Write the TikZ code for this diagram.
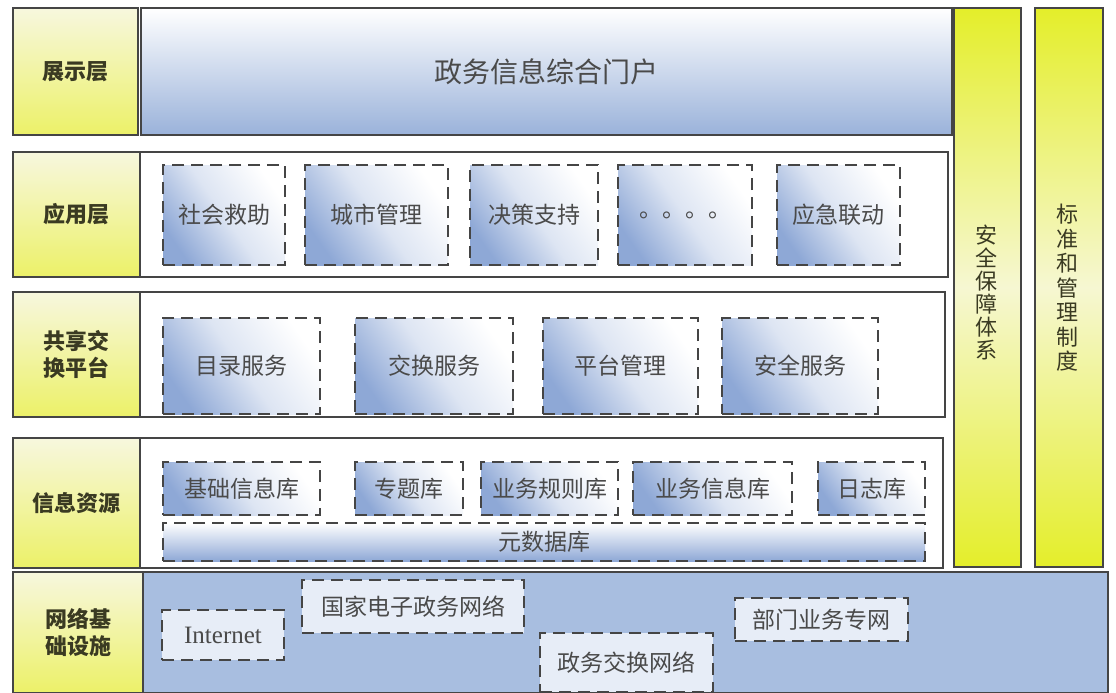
\documentclass[tikz,border=0pt]{standalone}
\usepackage{fontspec}
\setmainfont{Noto Sans CJK SC}
\newfontfamily\latinserif{Liberation Serif}
\begin{document}
\definecolor{bordc}{HTML}{454545}
\definecolor{lblyel}{HTML}{ECF168}
\definecolor{lblpale}{HTML}{F7F7DE}
\definecolor{boxblue}{HTML}{8EA8D6}
\definecolor{titleblue}{HTML}{9AB2DA}
\definecolor{netbg}{HTML}{A8BEE0}
\definecolor{netbox}{HTML}{E7EDF7}
\definecolor{colyel}{HTML}{E4EE2A}
\definecolor{colpale}{HTML}{F6F7D2}
\definecolor{lbltext}{HTML}{3A3A22}
\definecolor{boxtext}{HTML}{4A4A4A}
\begin{tikzpicture}[x=1pt,y=-1pt,
  every node/.style={inner sep=0pt,outer sep=0pt},
  lbl/.style={draw=bordc,line width=1.8pt,top color=lblpale,bottom color=lblyel,
    text=lbltext,align=center,font=\fontsize{22}{27}\selectfont\bfseries},
  rowbox/.style={draw=bordc,line width=1.8pt,fill=white},
  titlebox/.style={draw=bordc,line width=1.8pt,top color=white,bottom color=titleblue,
    text=boxtext,font=\fontsize{28}{32}\selectfont},
  dbox/.style={draw=bordc,line width=2.2pt,dash pattern=on 12pt off 7pt,
    left color=boxblue,right color=white,middle color=boxblue!30,shading angle=125,
    text=boxtext,font=\fontsize{23}{26}\selectfont},
  metabox/.style={draw=bordc,line width=2.2pt,dash pattern=on 12pt off 7pt,
    top color=white,bottom color=boxblue,
    text=boxtext,font=\fontsize{23}{26}\selectfont},
  netrow/.style={draw=bordc,line width=1.8pt,fill=netbg},
  nbox/.style={draw=bordc,line width=2.2pt,dash pattern=on 12pt off 7pt,fill=netbox,
    text=boxtext,font=\fontsize{23}{26}\selectfont},
  colbox/.style={draw=bordc,line width=1.8pt,top color=colyel,bottom color=colyel,middle color=colpale,
    text=lbltext,align=center,font=\fontsize{22}{24}\selectfont}
]
\newcommand{\bx}[7]{\node[#2,anchor=north west,minimum width={#5-#3},minimum height={#6-#4}] (#1) at (#3,#4) {#7};}
\useasboundingbox (0,0) rectangle (1116,693);
\fill[white] (0,0) rectangle (1116,693);
% columns
\bx{sec}{colbox}{954}{8}{1021}{567}{}
\bx{std}{colbox}{1035}{8}{1103}{567}{}
\node[text=lbltext,align=center,font=\fontsize{22}{23}\selectfont] (sect) at (986,292) {安\\全\\保\\障\\体\\系};
\node[text=lbltext,align=center,font=\fontsize{22}{24.5}\selectfont] (stdt) at (1067,288) {标\\准\\和\\管\\理\\制\\度};
% row 1
\bx{r1l}{lbl}{13}{8}{138}{135}{展示层}
\bx{r1m}{titlebox}{141}{8}{952}{135}{政务信息综合门户}
% row 2
\bx{r2m}{rowbox}{140}{152}{948}{277}{}
\bx{r2l}{lbl}{13}{152}{140}{277}{应用层}
\bx{a1}{dbox}{163}{165}{285}{265}{社会救助}
\bx{a2}{dbox}{305}{165}{448}{265}{城市管理}
\bx{a3}{dbox}{470}{165}{598}{265}{决策支持}
\bx{a4}{dbox}{618}{165}{752}{265}{。。。。}
\bx{a5}{dbox}{777}{165}{900}{265}{应急联动}
% row 3
\bx{r3m}{rowbox}{140}{292}{945}{417}{}
\bx{r3l}{lbl}{13}{292}{140}{417}{共享交\\换平台}
\bx{s1}{dbox}{163}{318}{320}{414}{目录服务}
\bx{s2}{dbox}{355}{318}{513}{414}{交换服务}
\bx{s3}{dbox}{543}{318}{698}{414}{平台管理}
\bx{s4}{dbox}{722}{318}{878}{414}{安全服务}
% row 4
\bx{r4m}{rowbox}{140}{438}{943}{568}{}
\bx{r4l}{lbl}{13}{438}{140}{568}{信息资源}
\bx{i1}{dbox}{163}{462}{320}{515}{基础信息库}
\bx{i2}{dbox}{355}{462}{463}{515}{专题库}
\bx{i3}{dbox}{481}{462}{618}{515}{业务规则库}
\bx{i4}{dbox}{633}{462}{792}{515}{业务信息库}
\bx{i5}{dbox}{818}{462}{925}{515}{日志库}
\bx{meta}{metabox}{163}{523}{925}{561}{元数据库}
% row 5
\bx{r5m}{netrow}{143}{572}{1108}{693}{}
\bx{r5l}{lbl}{13}{572}{143}{693}{网络基\\础设施}
\bx{n1}{nbox}{162}{610}{284}{660}{{\latinserif\fontsize{25}{28}\selectfont Internet}}
\bx{n2}{nbox}{302}{580}{524}{633}{国家电子政务网络}
\bx{n3}{nbox}{540}{633}{713}{692}{政务交换网络}
\bx{n4}{nbox}{735}{598}{908}{641}{部门业务专网}
\end{tikzpicture}
\end{document}
